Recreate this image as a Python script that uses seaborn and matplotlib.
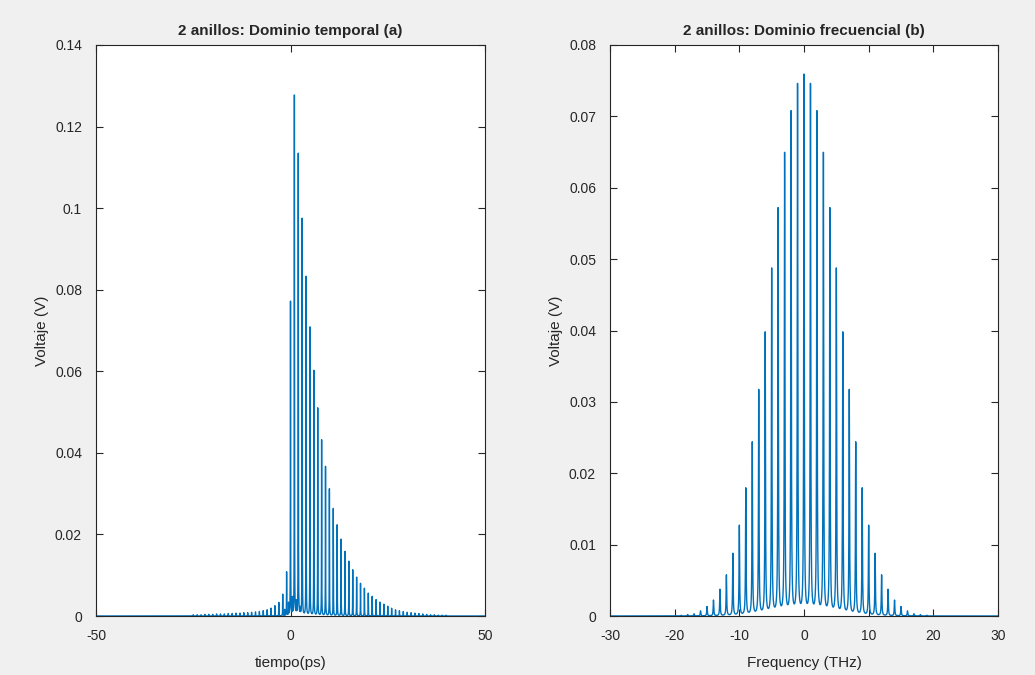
import numpy as np
import pandas as pd
import matplotlib
matplotlib.use('Agg')
import matplotlib.pyplot as plt
from matplotlib.ticker import FuncFormatter
import seaborn as sns


# --- datos ---

# (a) dominio temporal: un pico por ps
t_pos = list(range(-25, 41))
t_alt = [0.0003, 0.0003, 0.0003, 0.0004, 0.0004, 0.0004, 0.0005, 0.0005, 0.0005,
         0.0006, 0.0006, 0.0007, 0.0007, 0.0008, 0.0008, 0.0009, 0.0010, 0.0011,
         0.0013, 0.0015, 0.0019, 0.0025, 0.0033, 0.0053, 0.0107,
         0.0770, 0.1275, 0.1132, 0.0973, 0.0831, 0.0707, 0.0601, 0.0509, 0.0431,
         0.0366, 0.0311, 0.0263, 0.0223, 0.0188, 0.0158, 0.0134, 0.0113, 0.0095,
         0.0080, 0.0068, 0.0056, 0.0048, 0.0040, 0.0034, 0.0029, 0.0024, 0.0019,
         0.0015, 0.0013, 0.0011, 0.0009, 0.0008, 0.0007, 0.0006, 0.0005, 0.0004,
         0.0003, 0.0003, 0.0002, 0.0002, 0.0002]

# pequeños picos secundarios cerca de la base
t_pos2 = [-1.5, -0.5, 0.5, 1.5, 2.5]
t_alt2 = [0.0015, 0.0030, 0.0040, 0.0030, 0.0015]

# (b) dominio frecuencial: un pico por THz
f_pos = list(range(-19, 20))
f_alt = [0.0001, 0.0002, 0.0003, 0.0007, 0.0013, 0.0022, 0.0037, 0.0057, 0.0087,
         0.0126, 0.0178, 0.0242, 0.0315, 0.0395, 0.0484, 0.0568, 0.0645, 0.0703,
         0.0741, 0.0754, 0.0741, 0.0703, 0.0645, 0.0568, 0.0484, 0.0395, 0.0315,
         0.0242, 0.0178, 0.0126, 0.0087, 0.0057, 0.0037, 0.0022, 0.0013, 0.0007,
         0.0003, 0.0002, 0.0001]


def spikes(x, pos, alt, g):
    # cada pico como una linea estrecha (lorentziana) de altura alt
    y = np.zeros_like(x)
    for p, h in zip(pos, alt):
        y += h * g**2 / ((x - p)**2 + g**2)
    return y


sns.set_theme(style='white')
plt.rcParams['font.family'] = ['Liberation Sans', 'DejaVu Sans']

azul = '#0072BD'
gris = '#262626'

t = np.linspace(-50, 50, 40001)
df_t = pd.DataFrame({'t': t,
                     'v': spikes(t, t_pos, t_alt, 0.03) + spikes(t, t_pos2, t_alt2, 0.03)})

f = np.linspace(-30, 30, 24001)
df_f = pd.DataFrame({'f': f, 'v': spikes(f, f_pos, f_alt, 0.05)})

fig = plt.figure(figsize=(10.35, 6.75), dpi=100)
fig.patch.set_facecolor('#F0F0F0')

ax1 = fig.add_axes([96 / 1035, 59 / 675, 389 / 1035, 571 / 675])
ax2 = fig.add_axes([610 / 1035, 59 / 675, 388 / 1035, 571 / 675])

sns.lineplot(data=df_t, x='t', y='v', ax=ax1, color=azul, lw=1.0,
             estimator=None, sort=False)
sns.lineplot(data=df_f, x='f', y='v', ax=ax2, color=azul, lw=1.0,
             estimator=None, sort=False)

ax1.set_xlim(-50, 50)
ax1.set_ylim(0, 0.14)
ax1.set_xticks([-50, 0, 50])
ax1.set_yticks(np.arange(0, 0.141, 0.02))
ax1.set_title('2 anillos: Dominio temporal (a)', fontsize=11, fontweight='bold', pad=7)
ax1.set_xlabel('tiempo(ps)', fontsize=11, labelpad=10)
ax1.set_ylabel('Voltaje (V)', fontsize=11, labelpad=4)

ax2.set_xlim(-30, 30)
ax2.set_ylim(0, 0.08)
ax2.set_xticks(np.arange(-30, 31, 10))
ax2.set_yticks(np.arange(0, 0.081, 0.01))
ax2.set_title('2 anillos: Dominio frecuencial (b)', fontsize=11, fontweight='bold', pad=7)
ax2.set_xlabel('Frequency (THz)', fontsize=11, labelpad=10)
ax2.set_ylabel('Voltaje (V)', fontsize=11, labelpad=4)

fmt = FuncFormatter(lambda v, p: '%g' % round(v, 4))
for ax in (ax1, ax2):
    ax.set_facecolor('white')
    ax.yaxis.set_major_formatter(fmt)
    ax.xaxis.set_major_formatter(fmt)
    ax.tick_params(direction='in', length=5, width=0.8, top=True, right=True,
                   bottom=True, left=True, labelsize=10, labelcolor=gris)
    ax.tick_params(axis='x', pad=9)
    ax.tick_params(axis='y', pad=10)
    for s in ax.spines.values():
        s.set_linewidth(0.8)
        s.set_color(gris)
    ax.xaxis.label.set_color(gris)
    ax.yaxis.label.set_color(gris)

fig.savefig('out.png', dpi=100, facecolor=fig.get_facecolor())
